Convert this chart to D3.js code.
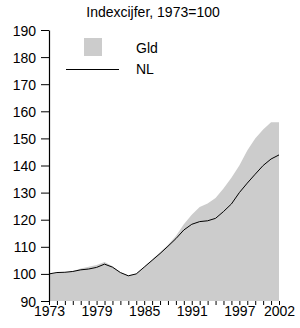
<!DOCTYPE html>
<html>
<head>
<meta charset="utf-8">
<script src="https://cdn.jsdelivr.net/npm/d3@7"></script>
<style>
  body { margin: 0; background: #fff; }
  svg text { font-family: "Liberation Sans", Arial, sans-serif; font-size: 14px; fill: #000; }
</style>
</head>
<body>
<svg id="chart" width="300" height="328"></svg>
<script>
// data
var years = d3.range(1973, 2003);
var gld = [100, 100.3, 100.5, 101, 102, 102.6, 103.3, 104.4, 102.8, 100.6,
           99.4, 100.1, 102.6, 105.3, 108, 110.8, 114, 118.3, 121.8, 124.7,
           126, 128, 131.5, 135.5, 140, 145.5, 150, 153.3, 156, 156];
var nl = [100, 100.5, 100.6, 100.9, 101.5, 101.8, 102.4, 103.6, 102.5, 100.5,
          99.3, 100, 102.5, 105, 107.5, 110.2, 113, 116.2, 118.3, 119.3,
          119.6, 120.5, 123, 125.8, 130, 133.5, 136.8, 140, 142.4, 143.9];
var yTicks = [90, 100, 110, 120, 130, 140, 150, 160, 170, 180, 190];
var xLabels = [1973, 1979, 1985, 1991, 1997, 2002];
var title = "Indexcijfer, 1973=100";

var svg = d3.select('#chart');

var x = d3.scaleLinear().domain([1973, 2002]).range([49, 279]);
var y = d3.scaleLinear().domain([90, 190]).range([301, 30]);

// Gld area
svg.append('path')
    .datum(years)
    .attr('fill', '#cccccc')
    .attr('d', d3.area()
        .x(function(d) { return x(d); })
        .y0(y(90))
        .y1(function(d, i) { return y(gld[i]); }));

// NL line
svg.append('path')
    .datum(years)
    .attr('fill', 'none')
    .attr('stroke', '#000')
    .attr('stroke-width', 1)
    .attr('d', d3.line()
        .x(function(d) { return x(d); })
        .y(function(d, i) { return y(nl[i]); }));

// y axis
var yAxis = svg.append('g')
    .attr('transform', 'translate(49,0)')
    .call(d3.axisLeft(y).tickValues(yTicks).tickSize(8).tickPadding(5).tickSizeOuter(0));
yAxis.select('.domain').attr('stroke', '#000').attr('stroke-width', 1.2);
yAxis.selectAll('.tick line').attr('stroke', '#000');
yAxis.selectAll('text').attr('font-size', null).attr('font-family', null).attr('dy', '0.36em');

// x axis: a tick each year, labels on some
var xAxis = svg.append('g')
    .attr('transform', 'translate(0,301)')
    .call(d3.axisBottom(x).tickValues(years).tickSize(4).tickPadding(1)
        .tickFormat(function(d) { return xLabels.indexOf(d) >= 0 ? d : ''; }));
xAxis.select('.domain').remove();
xAxis.selectAll('.tick line').attr('stroke', '#000');
xAxis.selectAll('text').attr('font-size', null).attr('font-family', null);

// title
svg.append('text')
    .attr('x', 153)
    .attr('y', 17)
    .attr('text-anchor', 'middle')
    .text(title);

// legend
svg.append('rect')
    .attr('x', 84).attr('y', 38)
    .attr('width', 18).attr('height', 18)
    .attr('fill', '#cccccc');
svg.append('text').attr('x', 136).attr('y', 53).text('Gld');
svg.append('line')
    .attr('x1', 66).attr('x2', 119)
    .attr('y1', 69.5).attr('y2', 69.5)
    .attr('stroke', '#000');
svg.append('text').attr('x', 136).attr('y', 74).text('NL');
</script>
</body>
</html>
